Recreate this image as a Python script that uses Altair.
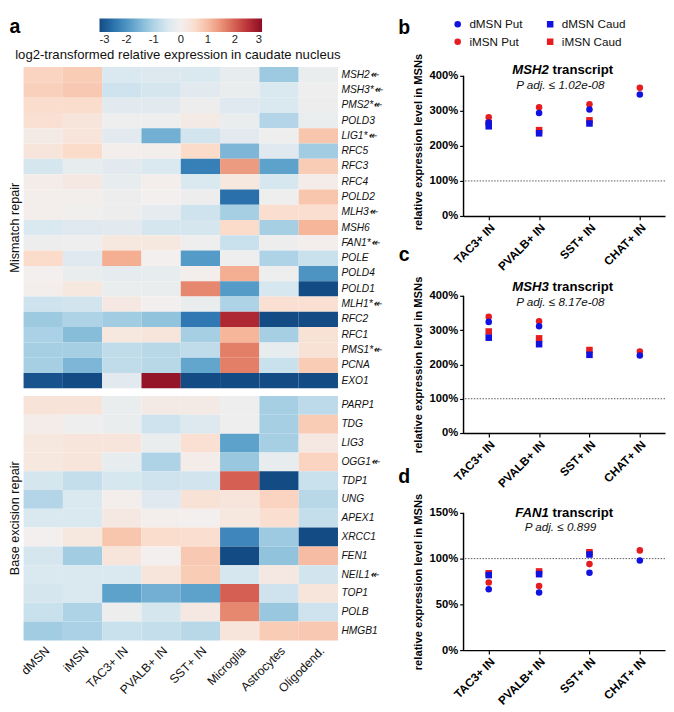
import altair as alt
import pandas as pd

# ---------------- heatmap data ----------------
cell_types = ["dMSN", "iMSN", "TAC3+ IN", "PVALB+ IN", "SST+ IN",
              "Microglia", "Astrocytes", "Oligodend."]

mmr_genes = ["MSH2", "MSH3", "PMS2", "POLD3", "LIG1", "RFC5", "RFC3", "RFC4",
             "POLD2", "MLH3", "MSH6", "FAN1", "POLE", "POLD4", "POLD1", "MLH1",
             "RFC2", "RFC1", "PMS1", "PCNA", "EXO1"]
mmr_marks = ["↞", "*↞", "*↞", "", "*↞", "", "", "", "", "↞", "", "*↞", "",
             "", "", "*↞", "", "", "*↞", "", ""]
mmr_values = [
    [0.7, 0.8, -0.45, -0.4, -0.45, -0.2, -1.2, -0.15],
    [0.75, 0.85, -0.65, -0.55, -0.3, -0.15, -0.45, -0.05],
    [0.55, 0.55, -0.3, -0.3, -0.1, -0.35, -0.45, -0.1],
    [0.45, 0.3, -0.05, -0.05, 0.15, -0.15, -0.95, -0.15],
    [0.15, 0.3, -0.3, -1.6, -0.6, -0.3, -0.05, 0.9],
    [0.3, 0.6, 0.05, 0.05, 0.6, -1.5, -0.35, -1.15],
    [-0.55, -0.2, -0.3, -0.45, -2.3, 1.4, -1.8, 0.8],
    [0.1, 0.2, -0.2, 0.05, -0.45, 0.25, -0.5, 0.1],
    [0.05, 0.05, -0.1, 0.0, -0.1, -2.5, -0.05, 0.9],
    [0.05, -0.02, -0.1, -0.25, -0.65, -1.1, 0.5, 0.5],
    [-0.45, -0.35, -0.3, -0.55, -0.55, 0.6, -1.1, 1.1],
    [-0.1, -0.05, 0.25, 0.25, -0.05, -0.7, -0.1, 0.05],
    [0.6, -0.35, 1.2, 0.0, -1.9, -0.05, -1.0, -0.7],
    [0.0, -0.15, -0.25, -0.2, 0.05, 1.2, -0.05, -2.0],
    [0.05, 0.25, -0.15, -0.15, 1.6, -1.9, -0.5, -3.0],
    [-0.65, -0.6, 0.2, 0.0, -0.15, -1.0, 0.45, 0.45],
    [-1.2, -1.0, -1.15, -1.3, -2.4, 2.6, -3.0, -3.0],
    [-1.05, -1.4, 0.25, 0.3, -1.1, 1.1, -1.1, 0.4],
    [-1.1, -1.1, -0.8, -0.9, -0.8, 1.7, -0.2, 0.4],
    [-1.1, -1.5, -0.8, -0.9, -1.75, 1.7, -0.7, 0.8],
    [-2.9, -3.0, -0.3, 2.9, -3.0, -3.0, -3.0, -3.0],
]

ber_genes = ["PARP1", "TDG", "LIG3", "OGG1", "TDP1", "UNG", "APEX1", "XRCC1",
             "FEN1", "NEIL1", "TOP1", "POLB", "HMGB1"]
ber_marks = ["", "", "", "↞", "", "", "", "", "", "↞", "", "", ""]
ber_values = [
    [0.35, 0.35, -0.15, 0.15, 0.15, -0.05, -1.1, -0.85],
    [0.1, -0.05, -0.15, -0.65, -0.4, -0.05, -1.1, 0.8],
    [0.25, 0.3, 0.3, -0.15, 0.45, -1.8, -1.1, 0.2],
    [0.25, 0.3, -0.2, -1.0, 0.1, -1.25, -0.2, 0.7],
    [-0.55, -0.75, -0.5, -0.65, -0.6, 2.0, -3.0, -0.7],
    [-0.95, -0.45, 0.05, -0.35, 0.4, 0.3, 0.7, -0.9],
    [-0.45, -0.45, 0.2, 0.05, 0.0, 0.25, 0.5, -0.75],
    [0.0, 0.25, 0.9, 0.55, 0.5, -2.2, -1.2, -3.0],
    [-0.55, -1.15, 0.3, 0.0, 0.85, -3.0, -1.3, 1.0],
    [-0.45, -0.45, -0.45, 0.3, 0.8, -0.5, 0.2, -0.6],
    [-0.55, -0.45, -1.8, -1.6, -1.8, 2.0, -0.65, 0.3],
    [-0.7, -1.0, -0.1, -0.55, 0.2, 1.6, -1.25, -0.65],
    [-1.15, -1.05, -0.7, -0.75, -0.9, 0.3, 0.8, 0.85],
]

# ---------------- scatter data ----------------
interneurons = ["TAC3+ IN", "PVALB+ IN", "SST+ IN", "CHAT+ IN"]
# legend fills column by column: dMSN Put / iMSN Put, then dMSN Caud / iMSN Caud
series_names = ["dMSN Put", "iMSN Put", "dMSN Caud", "iMSN Caud"]

msh2_dmsn_put = [267, 294, 304, 347]
msh2_dmsn_caud = [256, 236, 264, None]
msh2_imsn_put = [282, 310, 319, 366]
msh2_imsn_caud = [265, 245, 273, None]

msh3_dmsn_put = [324, 311, None, 226]
msh3_dmsn_caud = [278, 259, 228, None]
msh3_imsn_put = [339, 326, None, 238]
msh3_imsn_caud = [296, 276, 242, None]

fan1_dmsn_put = [66.5, 63, 84.5, 98]
fan1_dmsn_caud = [82, 83, 104.5, None]
fan1_imsn_put = [74, 70, 94, 109]
fan1_imsn_caud = [84, 86, 107, None]

FONT = "Liberation Sans"
BLUE = "#1111e0"
RED = "#e51c20"

HW = 323          # heatmap width
MMR_H = 330
BER_H = 251
PW = 207          # scatter plot width


def heat_df(genes, marks, values):
    rows = []
    for g, m, vals in zip(genes, marks, values):
        for ct, v in zip(cell_types, vals):
            rows.append({"gene": g + m, "cell": ct, "value": v})
    return pd.DataFrame(rows)


color_enc = alt.Color(
    "value:Q",
    scale=alt.Scale(scheme="redblue", reverse=True, domain=[-3, 3], clamp=True),
    legend=alt.Legend(orient="none", direction="horizontal", legendX=78, legendY=-50,
                      gradientLength=167, gradientThickness=14, title=None,
                      values=[-3, -2, -1, 0, 1, 2, 3], labelFontSize=11.5,
                      labelExpr="datum.value < 0 ? '-' + abs(datum.value) : '' + datum.value",
                      labelOverlap=False, gradientStrokeWidth=0, labelColor="#222"),
)


def heatmap(genes, marks, values, height, side_label, show_x, letter=None, title=None):
    df = heat_df(genes, marks, values)
    labels = [g + m for g, m in zip(genes, marks)]
    if show_x:
        xaxis = alt.Axis(title=None, labelAngle=-45, labelFontSize=12.5, ticks=False,
                         domain=False, labelPadding=4, labelColor="#111")
    else:
        xaxis = None
    rect = alt.Chart(df).mark_rect().encode(
        x=alt.X("cell:N", sort=cell_types, axis=xaxis),
        y=alt.Y("gene:N", sort=labels,
                axis=alt.Axis(orient="right", title=None, ticks=False, domain=False,
                              labelFontStyle="italic", labelFontSize=10.5,
                              labelPadding=3, labelColor="#111")),
        color=color_enc,
    )
    side = alt.Chart(pd.DataFrame({"t": [side_label]})).mark_text(
        angle=270, fontSize=13, baseline="middle", align="center", color="#111"
    ).encode(x=alt.value(-9), y=alt.value(height / 2), text="t:N")
    layers = [rect, side]
    if letter:
        layers.append(alt.Chart(pd.DataFrame({"t": [letter]})).mark_text(
            fontSize=20, fontWeight="bold", baseline="middle", align="center"
        ).encode(x=alt.value(-9), y=alt.value(-41), text="t:N"))
    if title:
        layers.append(alt.Chart(pd.DataFrame({"t": [title]})).mark_text(
            fontSize=13.5, baseline="middle", align="center", color="#111"
        ).encode(x=alt.value(HW / 2 - 3), y=alt.value(-12), text="t:N"))
    return alt.layer(*layers).properties(width=HW, height=height)


mmr = heatmap(mmr_genes, mmr_marks, mmr_values, MMR_H, "Mismatch repair", False,
              letter="a", title="log2-transformed relative expression in caudate nucleus")
ber = heatmap(ber_genes, ber_marks, ber_values, BER_H, "Base excision repair", True)


def scatter_df(dput, dcaud, iput, icaud):
    rows = []
    for name, vals in [("iMSN Put", iput), ("iMSN Caud", icaud),
                       ("dMSN Put", dput), ("dMSN Caud", dcaud)]:
        for cell, v in zip(interneurons, vals):
            if v is not None:
                rows.append({"cell": cell, "series": name, "pct": v})
    df = pd.DataFrame(rows)
    df["ord"] = range(len(df))
    return df


def panel(df, gene, padj, ymax, yticks, height, extra, letter, title_dy, sub_dy,
          letter_dy):
    total_h = height + extra
    dom_max = ymax * total_h / height
    y_enc = alt.Y("pct:Q", scale=alt.Scale(domain=[0, dom_max], nice=False, zero=True),
                  axis=alt.Axis(values=yticks, tickCount=len(yticks),
                                labelExpr="datum.value + '%'",
                                title="relative expression level in MSNs",
                                titleFontSize=11.5, titleFontWeight="bold",
                                titleColor="#000", labelFontSize=11.5,
                                labelFontWeight="bold", labelColor="#000",
                                labelOverlap=False, domain=False,
                                tickSize=4, tickColor="#000",
                                tickWidth=1.2, grid=False, titlePadding=6))
    x_enc = alt.X("cell:N", sort=interneurons,
                  axis=alt.Axis(title=None, labelAngle=-45, labelFontSize=12,
                                labelFontWeight="bold", tickSize=4, tickColor="#000",
                                domainColor="#000", domainWidth=1.5, tickWidth=1.2,
                                labelColor="#000", grid=False))
    legend = alt.Legend(orient="none", legendX=-12, legendY=-50,
                        columns=2, title=None, labelFontSize=12,
                        symbolSize=45, columnPadding=22,
                        rowPadding=6, labelOffset=6, labelColor="#111")
    pts = alt.Chart(df).mark_point(filled=True, size=45, opacity=1).encode(
        x=x_enc,
        y=y_enc,
        color=alt.Color("series:N",
                        scale=alt.Scale(domain=series_names, range=[BLUE, RED, BLUE, RED]),
                        legend=legend),
        shape=alt.Shape("series:N",
                        scale=alt.Scale(domain=series_names,
                                        range=["circle", "circle", "square", "square"])),
        order=alt.Order("ord:Q"),
    )
    rule = alt.Chart(pd.DataFrame({"pct": [100]})).mark_rule(
        strokeDash=[1.5, 1.5], color="#555", strokeWidth=1
    ).encode(y=y_enc)
    axis_line = alt.Chart(pd.DataFrame({"pct": [0], "top": [ymax]})).mark_rule(
        color="#000", strokeWidth=1.5
    ).encode(y=y_enc, y2="top:Q", x=alt.value(0))
    g = alt.Chart(pd.DataFrame({"t": [gene]})).mark_text(
        fontSize=13.5, fontWeight="bold", fontStyle="italic", align="right",
        baseline="middle", color="#000"
    ).encode(x=alt.value(PW / 2 - 16), y=alt.value(title_dy), text="t:N")
    tr = alt.Chart(pd.DataFrame({"t": ["transcript"]})).mark_text(
        fontSize=13.5, fontWeight="bold", align="left", baseline="middle", color="#000"
    ).encode(x=alt.value(PW / 2 - 12), y=alt.value(title_dy), text="t:N")
    sub = alt.Chart(pd.DataFrame({"t": [padj]})).mark_text(
        fontSize=12, fontStyle="italic", align="center", baseline="middle", color="#111"
    ).encode(x=alt.value(PW / 2 - 4), y=alt.value(sub_dy), text="t:N")
    let = alt.Chart(pd.DataFrame({"t": [letter]})).mark_text(
        fontSize=20, fontWeight="bold", align="center", baseline="middle", color="#000"
    ).encode(x=alt.value(-61), y=alt.value(letter_dy), text="t:N")
    return alt.layer(rule, axis_line, pts, g, tr, sub, let).properties(width=PW, height=total_h)


pb = panel(scatter_df(msh2_dmsn_put, msh2_dmsn_caud, msh2_imsn_put, msh2_imsn_caud),
           "MSH2", "P adj. ≤ 1.02e-08", 400, [0, 100, 200, 300, 400], 144, 9, "b",
           3, 19, -40)
pc = panel(scatter_df(msh3_dmsn_put, msh3_dmsn_caud, msh3_imsn_put, msh3_imsn_caud),
           "MSH3", "P adj. ≤ 8.17e-08", 400, [0, 100, 200, 300, 400], 141, 0, "c",
           -9, 6, -42)
pdd = panel(scatter_df(fan1_dmsn_put, fan1_dmsn_caud, fan1_imsn_put, fan1_imsn_caud),
            "FAN1", "P adj. ≤ 0.899", 150, [0, 50, 100, 150], 141, 0, "d", 0, 15, -37)

left = alt.vconcat(mmr, ber, spacing=8, bounds="flush")
right = alt.vconcat(pb, pc, pdd, spacing=82, bounds="flush")

chart = alt.hconcat(left, right, spacing=15).resolve_scale(
    color="independent", shape="independent"
).properties(padding=0).configure(font=FONT).configure_view(stroke=None)

chart.save("out.html", embed_options={"renderer": "svg", "actions": False})
